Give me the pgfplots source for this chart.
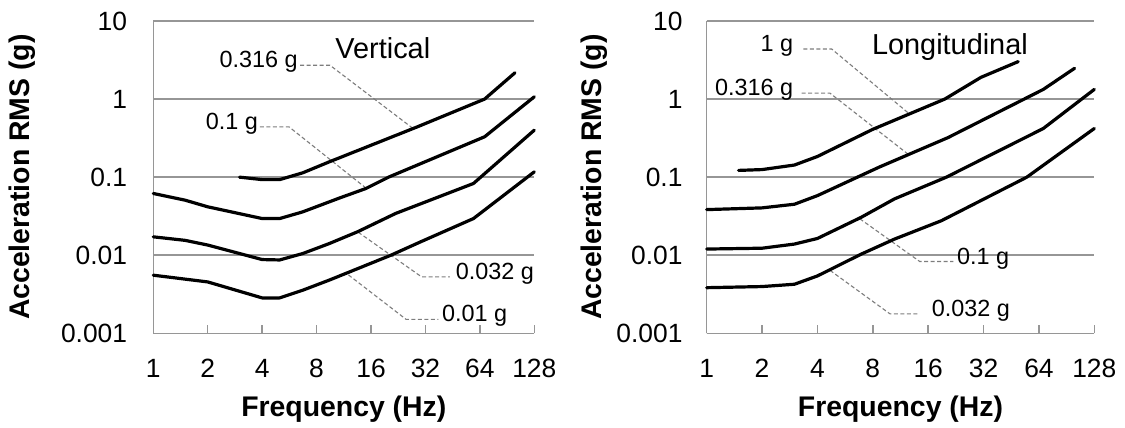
\documentclass[border=0pt]{standalone}
\usepackage{fontspec}
\setmainfont{Liberation Sans}
\usepackage{pgfplots}
\pgfplotsset{compat=1.18}
\definecolor{gridgray}{RGB}{150,150,150}
\definecolor{leadgray}{RGB}{125,125,125}
\tikzset{
  vibcurve/.style={black, line width=3.2bp, line join=round, line cap=round},
  leader/.style={leadgray, line width=1.1bp, dash pattern=on 4bp off 2.5bp},
  lbl/.style={font=\fontsize{23.5}{23.5}\selectfont, inner sep=0pt, text=black},
  ttl/.style={font=\fontsize{29}{29}\selectfont, inner sep=0pt, text=black},
}
\pgfplotsset{
  every axis x label/.style={at={(axis description cs:0.5,0)}, anchor=base, inner sep=0pt, yshift=-82.7bp, font=\fontsize{28.5}{28.5}\selectfont\bfseries},
  every axis y label/.style={rotate=90, anchor=center, inner sep=0pt, font=\fontsize{28.5}{28.5}\selectfont\bfseries},
}
\begin{document}
\begin{tikzpicture}
\useasboundingbox (0,0) rectangle (1125bp,428bp);
% ---------------- Vertical ----------------
\begin{axis}[
    xmode=log, ymode=log, log basis x=2,
    scale only axis, height=312.3bp, width=381bp,
    at={(153.3bp,94.7bp)}, anchor=south west,
    xmin=1, xmax=128, ymin=0.001, ymax=10,
    xtick={1,2,4,8,16,32,64,128}, xticklabels={1,2,4,8,16,32,64,128},
    ytick={0.001,0.01,0.1,1,10}, yticklabels={0.001,0.01,0.1,1,10},
    xminorticks=false, yminorticks=false,
    axis lines*=left, axis line style={gridgray, line width=1.5bp, -},
    ymajorgrids, major grid style={gridgray, line width=1.5bp},
    tick align=inside, major tick length=8bp,
    xtick style={gridgray, line width=1.5bp},
    ytick style={draw=none},
    xticklabel style={font=\fontsize{26.5}{26.5}\selectfont, inner sep=0pt, anchor=north, yshift=-25.5bp},
    yticklabel style={font=\fontsize{26.5}{26.5}\selectfont, inner sep=0pt, anchor=east, xshift=-26bp},
    xlabel={Frequency (Hz)}, ylabel={Acceleration RMS (g)},
    ylabel style={at={(axis description cs:-0.345,0.5)}},
    clip=false]
\draw[leader] (axis cs:6.48,2.71) -- (axis cs:9.49,2.71) -- (axis cs:26.9,0.432);
\draw[leader] (axis cs:3.89,0.441) -- (axis cs:5.63,0.441) -- (axis cs:15.1,0.0716);
\draw[leader] (axis cs:13.6,0.0197) -- (axis cs:30.5,0.00527) -- (axis cs:43.7,0.00527);
\draw[leader] (axis cs:12.0,0.0056) -- (axis cs:25,0.00151) -- (axis cs:37.7,0.00151);
\node[lbl, anchor=mid east] at (axis cs:6.3,2.71) {0.316 g};
\node[lbl, anchor=mid east] at (axis cs:3.8,0.441) {0.1 g};
\node[lbl, anchor=mid west] at (axis cs:47,0.00527) {0.032 g};
\node[lbl, anchor=mid west] at (axis cs:39.5,0.00151) {0.01 g};
\node[ttl] at (axis cs:18.6,4.55) {Vertical};
\addplot[vibcurve] coordinates {(3,0.100) (4,0.093) (5,0.093) (6.7,0.1135) (9.4,0.157) (28.8,0.44) (68,1.0) (100,2.17)};
\addplot[vibcurve] coordinates {(1,0.0618) (1.5,0.0507) (2,0.0417) (4,0.0295) (5,0.0295) (6.7,0.0359) (10.7,0.054) (15,0.0716) (20,0.1) (68,0.329) (128,1.07)};
\addplot[vibcurve] coordinates {(1,0.0172) (1.5,0.0155) (2,0.0135) (4,0.0088) (5,0.0087) (6.7,0.0105) (9.4,0.0141) (13.5,0.02) (21.9,0.0343) (59,0.083) (128,0.40)};
\addplot[vibcurve] coordinates {(1,0.00555) (2,0.00455) (4,0.00284) (5,0.00284) (6.7,0.00356) (9.4,0.0048) (20.6,0.01) (30,0.0148) (59,0.0295) (128,0.117)};
\end{axis}
% ---------------- Longitudinal ----------------
\begin{axis}[
    xmode=log, ymode=log, log basis x=2,
    scale only axis, height=312.3bp, width=387.6bp,
    at={(706.7bp,94.7bp)}, anchor=south west,
    xmin=1, xmax=128, ymin=0.001, ymax=10,
    xtick={1,2,4,8,16,32,64,128}, xticklabels={1,2,4,8,16,32,64,128},
    ytick={0.001,0.01,0.1,1,10}, yticklabels={0.001,0.01,0.1,1,10},
    xminorticks=false, yminorticks=false,
    axis lines*=left, axis line style={gridgray, line width=1.5bp, -},
    ymajorgrids, major grid style={gridgray, line width=1.5bp},
    tick align=inside, major tick length=8bp,
    xtick style={gridgray, line width=1.5bp},
    ytick style={draw=none},
    xticklabel style={font=\fontsize{26.5}{26.5}\selectfont, inner sep=0pt, anchor=north, yshift=-25.5bp},
    yticklabel style={font=\fontsize{26.5}{26.5}\selectfont, inner sep=0pt, anchor=east, xshift=-24bp},
    xlabel={Frequency (Hz)}, ylabel={Acceleration RMS (g)},
    ylabel style={at={(axis description cs:-0.291,0.5)}},
    clip=false]
\draw[leader] (axis cs:3.35,4.38) -- (axis cs:4.78,4.38) -- (axis cs:12.7,0.64);
\draw[leader] (axis cs:3.28,1.19) -- (axis cs:4.68,1.19) -- (axis cs:12.5,0.195);
\draw[leader] (axis cs:6.8,0.0293) -- (axis cs:14.4,0.0083) -- (axis cs:21.9,0.0083);
\draw[leader] (axis cs:4.68,0.0064) -- (axis cs:9.92,0.001774) -- (axis cs:14.4,0.001774);
\node[lbl, anchor=mid east] at (axis cs:2.96,4.38) {1 g};
\node[lbl, anchor=mid east] at (axis cs:2.96,1.19) {0.316 g};
\node[lbl, anchor=mid west] at (axis cs:22.9,0.0083) {0.1 g};
\node[lbl, anchor=mid west] at (axis cs:16.7,0.001774) {0.032 g};
\node[ttl] at (axis cs:21,4.6) {Longitudinal};
\addplot[vibcurve] coordinates {(1.49,0.122) (2,0.125) (3,0.143) (4,0.184) (8,0.41) (19.7,1.0) (31,1.9) (49.4,3.02)};
\addplot[vibcurve] coordinates {(1,0.0384) (2,0.0404) (3,0.0450) (4,0.058) (6.9,0.105) (8.7,0.135) (20.5,0.321) (67.6,1.33) (100,2.48)};
\addplot[vibcurve] coordinates {(1,0.0120) (2,0.0123) (3,0.0139) (4,0.0164) (6.9,0.0305) (10.5,0.0527) (20.1,0.1) (67.6,0.42) (128,1.33)};
\addplot[vibcurve] coordinates {(1,0.00384) (2,0.00397) (3,0.00425) (4,0.00543) (6.9,0.0103) (10.5,0.0161) (18.9,0.0277) (55,0.10) (128,0.42)};
\end{axis}
\end{tikzpicture}
\end{document}
